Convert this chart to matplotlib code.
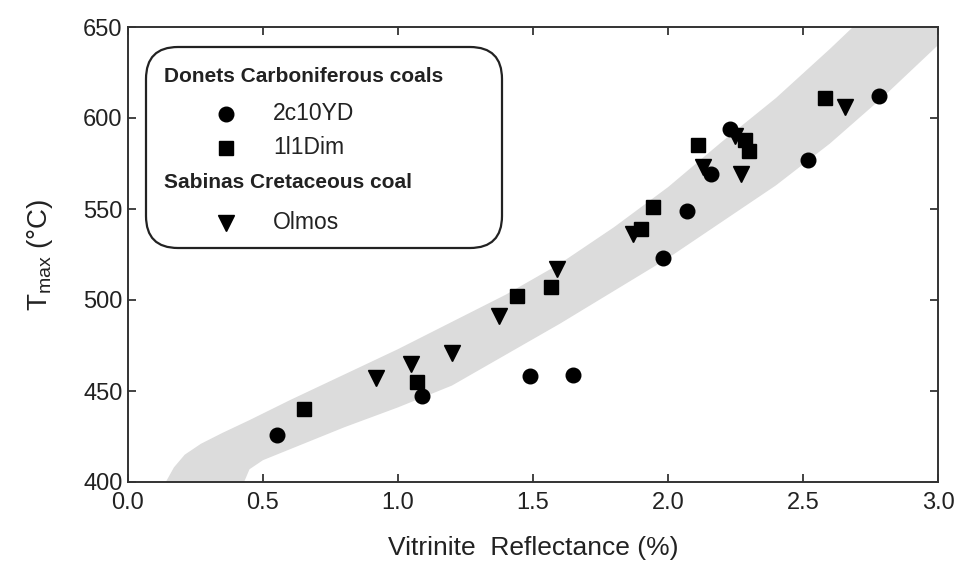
import matplotlib
matplotlib.use("Agg")
import matplotlib.pyplot as plt
from matplotlib.patches import FancyBboxPatch, Polygon
from matplotlib.lines import Line2D

plt.rcParams['font.family'] = ['Liberation Sans', 'DejaVu Sans']
plt.rcParams['mathtext.fontset'] = 'custom'
plt.rcParams['mathtext.rm'] = 'Liberation Sans'

# ---- data (vitrinite reflectance %, Tmax °C) ----
yd_ro = [0.55, 1.09, 1.49, 1.65, 1.98, 2.07, 2.16, 2.23, 2.52, 2.78]
yd_t = [426, 447, 458, 459, 523, 549, 569, 594, 577, 612]

dim_ro = [0.65, 1.07, 1.44, 1.565, 1.90, 1.945, 2.11, 2.285, 2.30, 2.58]
dim_t = [440, 455, 502, 507, 539, 551, 585, 588, 582, 611]

olmos_ro = [0.92, 1.05, 1.20, 1.375, 1.59, 1.87, 2.13, 2.25, 2.27, 2.655]
olmos_t = [457, 465, 471, 491, 517, 536, 573, 590, 569, 606]

# ---- shaded trend band edges ----
band_up_ro = [0.14, 0.17, 0.21, 0.27, 0.35, 0.45, 0.60, 0.80, 1.00, 1.20, 1.40, 1.60, 1.80,
              2.00, 2.20, 2.40, 2.60, 2.685]
band_up_t = [400, 408, 415, 421, 427, 434, 445, 459, 473, 488, 503, 520, 540,
             562, 587, 611, 638, 650]
band_lo_ro = [0.43, 0.45, 0.50, 0.60, 0.80, 1.00, 1.20, 1.40, 1.60, 1.80, 2.00, 2.20, 2.40,
              2.60, 2.80, 3.0]
band_lo_t = [400, 407, 412, 418, 430, 441, 453, 470, 487, 505, 523, 543, 563,
             586, 612, 640]

xticks = [0.0, 0.5, 1.0, 1.5, 2.0, 2.5, 3.0]
yticks = [400, 450, 500, 550, 600, 650]

W, H = 962, 569
fig = plt.figure(figsize=(W / 100, H / 100), dpi=100)
ax = fig.add_axes([128 / W, 1 - 482 / H, 810 / W, 455 / H])

# band polygon
verts = list(zip(band_up_ro, band_up_t)) + [(3.0, 650)] + list(zip(band_lo_ro[::-1], band_lo_t[::-1]))
ax.add_patch(Polygon(verts, closed=True, facecolor='#dcdcdc', edgecolor='none', zorder=1))

ms = 10.5
ax.plot(yd_ro, yd_t, 'o', color='black', markersize=ms, linestyle='none', zorder=3)
ax.plot(dim_ro, dim_t, 's', color='black', markersize=ms * 0.95, linestyle='none', zorder=3)
ax.plot(olmos_ro, olmos_t, 'v', color='black', markersize=ms * 1.1, linestyle='none', zorder=3)

ax.set_xlim(0, 3.0)
ax.set_ylim(400, 650)
ax.set_xticks(xticks)
ax.set_xticklabels([f"{v:.1f}" for v in xticks])
ax.set_yticks(yticks)
ax.tick_params(direction='in', length=6, width=1.2, top=True, right=True, labelsize=17, colors='#222222')
ax.tick_params(axis='x', pad=7)
ax.tick_params(axis='y', pad=4)
for s in ax.spines.values():
    s.set_linewidth(1.4)
    s.set_color('#333333')

ax.set_xlabel('Vitrinite  Reflectance (%)', fontsize=19, labelpad=16, color='#222222')
ax.set_ylabel(r'T$_{\mathregular{max}}$ (°C)', fontsize=20, labelpad=20, color='#222222')

# ---- legend (drawn by hand to mimic the rounded box with group headers) ----
def fx(px):
    return px / W

def fy(py):
    return 1 - py / H

box = FancyBboxPatch((146 / 100, (H - 248) / 100), (502 - 146) / 100, (248 - 47) / 100,
                     boxstyle='round,pad=0,rounding_size=0.32', transform=fig.dpi_scale_trans,
                     facecolor='white', edgecolor='#222222', linewidth=1.6, zorder=5)
fig.add_artist(box)

fig.text(fx(164), fy(77), 'Donets Carboniferous coals', fontsize=15, fontweight='bold',
         va='center', ha='left', color='#222222', zorder=6)
fig.text(fx(164), fy(183), 'Sabinas Cretaceous coal', fontsize=15, fontweight='bold',
         va='center', ha='left', color='#222222', zorder=6)
entries = [('o', '2c10YD', 114, ms), ('s', '1l1Dim', 148, ms * 0.95), ('v', 'Olmos', 223, ms * 1.1)]
for mk, lab, py, m in entries:
    fig.add_artist(Line2D([fx(226)], [fy(py)], marker=mk, color='black', markersize=m,
                          linestyle='none', transform=fig.transFigure, zorder=6))
    fig.text(fx(273), fy(py), lab, fontsize=16.5, va='center', ha='left', color='#222222', zorder=6)

fig.savefig('out.png', dpi=100)
